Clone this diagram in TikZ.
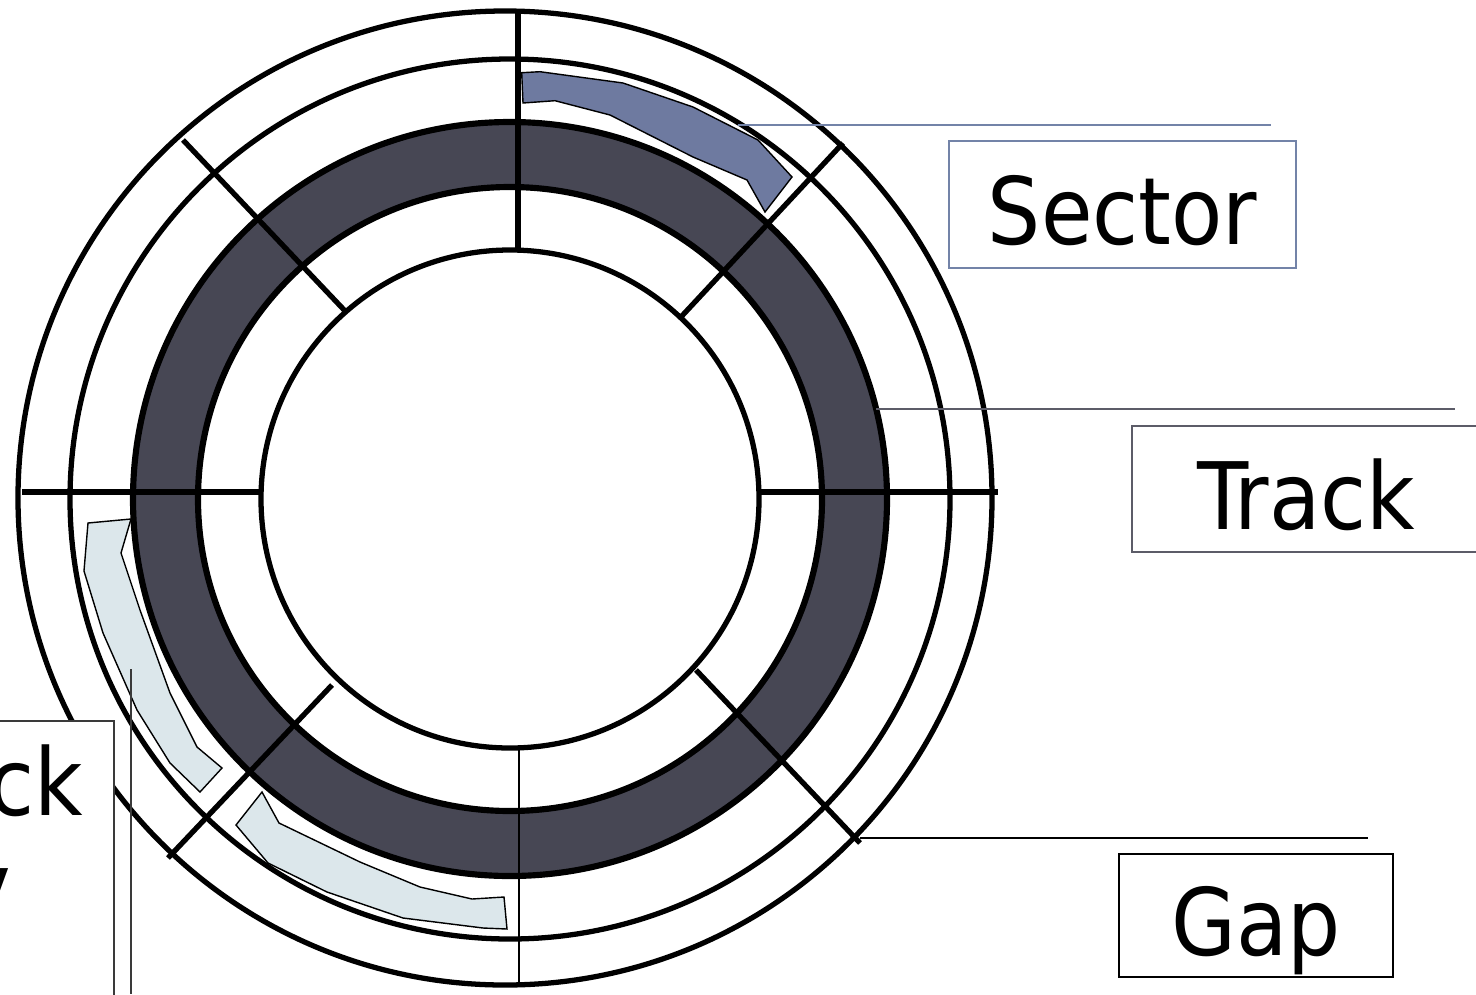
\documentclass[tikz,border=0pt]{standalone}
\usepackage{fontspec}
\setmainfont{DejaVu Sans Condensed}
\usetikzlibrary{positioning}
\definecolor{ink}{HTML}{000000}
\definecolor{platter}{HTML}{474754}
\definecolor{sectorfill}{HTML}{6E7AA0}
\definecolor{blockfill}{HTML}{DCE7EB}
\definecolor{sectorline}{HTML}{7383A8}
\definecolor{trackline}{HTML}{5C5C68}
\definecolor{boxgray}{HTML}{3A3A3A}
\tikzset{
  ring/.style={draw=ink,line width=3pt},
  spoke/.style={draw=ink,line width=3pt},
  thinspoke/.style={draw=ink,line width=1.2pt},
  area/.style={draw=ink,line width=0.8pt},
  leader/.style={line width=0.9pt},
  tagfont/.style={font=\fontsize{53}{62}\selectfont},
  tagbox/.style={draw,fill=white,line width=0.9pt,inner sep=0pt,tagfont,
                 text height=1.6cm,text depth=0pt}
}
\begin{document}
\begin{tikzpicture}[x=0.02cm,y=-0.02cm]
  \useasboundingbox (0,0) rectangle (1476,994);
  \clip (0,0) rectangle (1476,994);
  \coordinate (hub) at (510,499);
  % recorded band
  \fill[platter,even odd rule] (hub) circle[radius=377] (hub) circle[radius=312];
  \draw[ring] (505,498) circle[radius=487];
  \draw[ring] (hub) circle[radius=440];
  \draw[ring,line width=3.5pt] (hub) circle[radius=377];
  \draw[ring,line width=3.5pt] (hub) circle[radius=312];
  \draw[ring] (hub) circle[radius=249];
  % sector boundaries
  \draw[spoke] (518,12) -- (518,252);
  \draw[thinspoke] (519,748) -- (519,986);
  \draw[spoke] (22,492) -- (263,492);
  \draw[spoke] (760,492) -- (998,492);
  \draw[spoke] (183,140) -- (347,313);
  \draw[spoke] (843,143) -- (680,318);
  \draw[spoke] (696,670) -- (860,843);
  \draw[spoke] (332,685) -- (168,858);
  % one sector
  \draw[area,fill=sectorfill] (521.7,72.7) -- (540,71.7) -- (623,83) -- (693,107)
    -- (758,140) -- (792,177) -- (765,212) -- (747,180) -- (693,157) -- (610,115)
    -- (555,100.7) -- (523,103) -- cycle;
  % block over two sectors
  \draw[area,fill=blockfill] (88,523) -- (131,519) -- (121,553) -- (140,610)
    -- (170,693) -- (197,747) -- (222,768) -- (200,792) -- (170,763) -- (137,710)
    -- (103,633) -- (84,571) -- cycle;
  \draw[area,fill=blockfill] (262,792) -- (279,823) -- (360,862) -- (420,887)
    -- (472,899) -- (504,897) -- (507,929) -- (483,928) -- (403,918) -- (327,892)
    -- (268,863) -- (236,825) -- cycle;
  % leaders
  \coordinate (sectortip) at (738,125);
  \coordinate (sectorend) at (1271,125);
  \coordinate (tracktip) at (876,409);
  \coordinate (trackend) at (1455,409);
  \coordinate (gaptip) at (860,838);
  \coordinate (gapend) at (1368,838);
  \coordinate (blocktip) at (131,669);
  \coordinate (blockend) at (131,994);
  \draw[leader,sectorline] (sectortip) -- (sectorend);
  \draw[leader,trackline] (tracktip) -- (trackend);
  \draw[leader,ink] (gaptip) -- (gapend);
  \draw[leader,boxgray] (blocktip) -- (blockend);
  % labels
  \node[tagbox,draw=sectorline,minimum width=6.94cm,minimum height=2.54cm] (sector) at (1122.5,204.5) {Sector};
  \node[tagbox,draw=trackline,minimum width=6.96cm,minimum height=2.52cm] (track) at (1306,489) {Track};
  \node[tagbox,draw=ink,minimum width=5.48cm,minimum height=2.46cm] (gap) at (1256,915.5) {Gap};
  \node[tagbox,draw=boxgray,anchor=north east,minimum width=4cm,minimum height=6cm,
        text height=0pt] (block) at (115,720) {};
  \node[tagfont,inner sep=0pt,anchor=base east] (blockname) at (83,815) {ck};
  \node[tagfont,inner sep=0pt,anchor=base east] (blocknext) at (11,919) {y};
\end{tikzpicture}
\end{document}
